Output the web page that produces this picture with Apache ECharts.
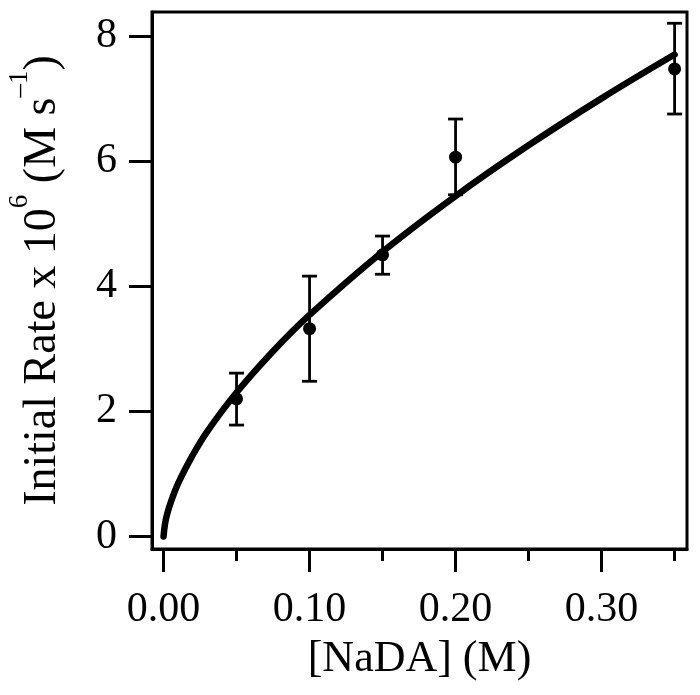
<!DOCTYPE html>
<html>
<head>
<meta charset="utf-8">
<script src="https://cdn.jsdelivr.net/npm/echarts@6/dist/echarts.min.js"></script>
<style>
  html, body { margin: 0; padding: 0; background: #fff; }
  #chart { width: 700px; height: 695px; }
</style>
</head>
<body>
<div id="chart"></div>
<script>
// measured points
const naDA = [0.05, 0.10, 0.15, 0.20, 0.35];
const initRate = [2.20, 3.32, 4.50, 6.06, 7.47];
const errLow = [1.78, 2.48, 4.19, 5.46, 6.75];
const errHigh = [2.61, 4.16, 4.80, 6.67, 8.20];

// fitted curve
const fitX = [0, 0.001, 0.0025, 0.005, 0.01, 0.02, 0.03, 0.05, 0.075, 0.10, 0.15, 0.20, 0.25, 0.30, 0.35];
const fitY = [0, 0.20, 0.36, 0.55, 0.85, 1.30, 1.68, 2.30, 2.96, 3.54, 4.55, 5.44, 6.25, 7.00, 7.70];

const xMajor = [0, 0.1, 0.2, 0.3];
const xMinor = [0.05, 0.15, 0.25, 0.35];
const yMajor = [0, 2, 4, 6, 8];

const font = 'Liberation Serif';
const chart = echarts.init(document.getElementById('chart'));

const baseX = {
  type: 'value',
  min: -0.0079,
  max: 0.3585,
  splitLine: { show: false },
  position: 'bottom'
};

const option = {
  animation: false,
  grid: {
    left: 152, right: 13, top: 12, bottom: 146,
    show: true, borderColor: '#000', borderWidth: 3,
    outerBoundsMode: 'none'
  },
  xAxis: [
    Object.assign({}, baseX, {
      name: '[NaDA] (M)',
      nameLocation: 'middle',
      nameGap: 88,
      nameTextStyle: { fontFamily: font, fontSize: 44, color: '#000' },
      axisLine: { show: true, onZero: false, lineStyle: { color: '#000', width: 3 } },
      axisTick: { show: true, length: 23, customValues: xMajor, lineStyle: { color: '#000', width: 3 } },
      axisLabel: {
        customValues: xMajor, margin: 40,
        fontFamily: font, fontSize: 42, color: '#000',
        formatter: v => v.toFixed(2)
      }
    }),
    Object.assign({}, baseX, {
      axisLine: { show: false, onZero: false },
      axisTick: { show: true, length: 12, customValues: xMinor, lineStyle: { color: '#000', width: 3 } },
      axisLabel: { show: false }
    })
  ],
  yAxis: {
    type: 'value',
    min: -0.2,
    max: 8.38,
    splitLine: { show: false },
    name: '{t|Initial Rate x 10}{sup|6}{t| (M s}{sup|–1}{t|)}',
    nameLocation: 'middle',
    nameGap: 86,
    nameTextStyle: {
      fontFamily: font, fontSize: 46, color: '#000',
      rich: {
        t: { fontFamily: font, fontSize: 46, color: '#000', lineHeight: 60, verticalAlign: 'bottom' },
        sup: { fontFamily: font, fontSize: 27, color: '#000', lineHeight: 32, verticalAlign: 'top' }
      }
    },
    axisLine: { show: true, onZero: false, lineStyle: { color: '#000', width: 3 } },
    axisTick: { show: true, length: 23, customValues: yMajor, lineStyle: { color: '#000', width: 3 } },
    axisLabel: {
      customValues: yMajor, margin: 35,
      fontFamily: font, fontSize: 42, color: '#000'
    }
  },
  series: [
    {
      name: 'fit',
      type: 'line',
      data: fitX.map((x, i) => [x, fitY[i]]),
      smooth: 0.4,
      showSymbol: false,
      lineStyle: { color: '#000', width: 6.5, cap: 'round' },
      z: 2
    },
    {
      name: 'error',
      type: 'custom',
      data: naDA.map((x, i) => [x, errLow[i], errHigh[i]]),
      encode: { x: 0, y: [1, 2] },
      renderItem: (params, api) => {
        const x = api.value(0);
        const top = api.coord([x, api.value(2)]);
        const bot = api.coord([x, api.value(1)]);
        const hw = 7.5;
        const st = { stroke: '#000', lineWidth: 2.8 };
        return {
          type: 'group',
          children: [
            { type: 'line', shape: { x1: top[0], y1: top[1], x2: bot[0], y2: bot[1] }, style: st },
            { type: 'line', shape: { x1: top[0] - hw, y1: top[1], x2: top[0] + hw, y2: top[1] }, style: st },
            { type: 'line', shape: { x1: bot[0] - hw, y1: bot[1], x2: bot[0] + hw, y2: bot[1] }, style: st }
          ]
        };
      },
      z: 3
    },
    {
      name: 'rate',
      type: 'scatter',
      data: naDA.map((x, i) => [x, initRate[i]]),
      symbol: 'circle',
      symbolSize: 13,
      itemStyle: { color: '#000', opacity: 1 },
      z: 4
    }
  ]
};

chart.setOption(option);
</script>
</body>
</html>
